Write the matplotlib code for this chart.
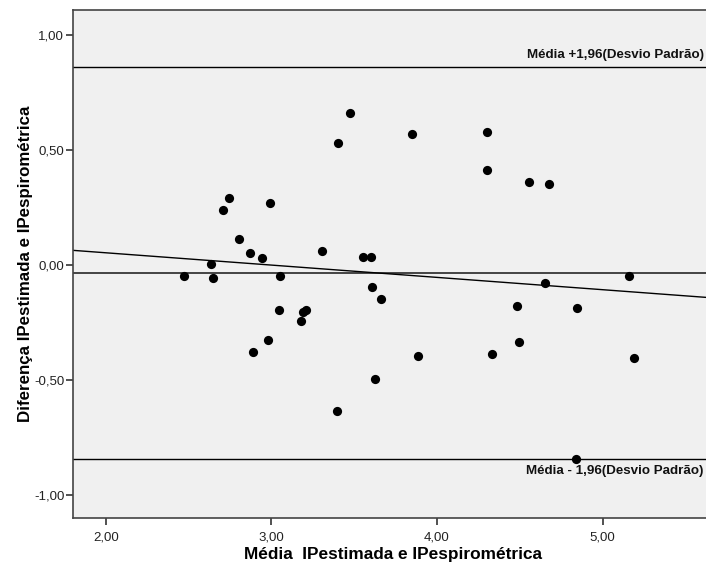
import matplotlib
matplotlib.use("Agg")
import matplotlib.pyplot as plt
from matplotlib.ticker import FuncFormatter

# Data (Bland-Altman points)
media = [2.472, 2.637, 2.649, 2.708, 2.744, 2.803, 2.871, 2.889, 2.943, 2.993,
         2.981, 3.052, 3.048, 3.181, 3.191, 3.207, 3.306, 3.400, 3.396, 3.477,
         3.551, 3.601, 3.606, 3.628, 3.660, 3.849, 3.885, 4.304, 4.300, 4.330,
         4.485, 4.495, 4.554, 4.678, 4.654, 4.847, 4.839, 5.158, 5.188]
diferenca = [-0.047, 0.004, -0.057, 0.240, 0.292, 0.112, 0.054, -0.376, 0.032, 0.271,
             -0.325, -0.047, -0.195, -0.245, -0.205, -0.195, 0.063, 0.530, -0.635, 0.659,
             0.034, 0.034, -0.096, -0.494, -0.147, 0.570, -0.395, 0.579, 0.411, -0.386,
             -0.176, -0.335, 0.361, 0.351, -0.076, -0.186, -0.843, -0.047, -0.405]

mean_diff = -0.033
upper_loa = 0.859
lower_loa = -0.842
reg_intercept = 0.160
reg_slope = -0.0534

xticks = [2.0, 3.0, 4.0, 5.0]
yticks = [-1.0, -0.5, 0.0, 0.5, 1.0]
upper_label = "Média +1,96(Desvio Padrão)"
lower_label = "Média - 1,96(Desvio Padrão)"
xlabel = "Média  IPestimada e IPespirométrica"
ylabel = "Diferença IPestimada e IPespirométrica"

narrow = ['Liberation Sans Narrow', 'Liberation Sans', 'DejaVu Sans']
sans = ['Liberation Sans', 'DejaVu Sans']

fig = plt.figure(figsize=(7.06, 5.75), dpi=100)
ax = fig.add_axes([73.3 / 706, 1 - 518 / 575, (712 - 73.3) / 706, (518 - 10) / 575])
ax.set_facecolor('#F0F0F0')

xmin, xmax = 1.804, 5.661
ax.set_xlim(xmin, xmax)
ax.set_ylim(-1.098, 1.107)

ax.axhline(upper_loa, color='black', lw=1.0, zorder=2)
ax.axhline(mean_diff, color='#444444', lw=1.4, zorder=2)
ax.axhline(lower_loa, color='black', lw=1.0, zorder=2)
ax.plot([xmin, xmax], [reg_intercept + reg_slope * xmin, reg_intercept + reg_slope * xmax],
        color='black', lw=1.0, zorder=2)

ax.scatter(media, diferenca, s=44, color='black', zorder=3, linewidths=0)

ax.text(5.610, upper_loa + 0.038, upper_label, ha='right', va='baseline',
        fontsize=9.6, fontweight='bold', family=narrow, color='#111111')
ax.text(5.610, lower_loa - 0.028, lower_label, ha='right', va='top',
        fontsize=9.6, fontweight='bold', family=narrow, color='#111111')

ax.set_xticks(xticks)
ax.set_yticks(yticks)
fmt = FuncFormatter(lambda v, p: f"{v:.2f}".replace('.', ','))
ax.xaxis.set_major_formatter(fmt)
ax.yaxis.set_major_formatter(fmt)
ax.tick_params(direction='out', length=5, width=1.2, color='#333333',
               labelsize=9.5, labelcolor='#222222', pad=1.5)
ax.tick_params(axis='x', pad=4.5)
for lab in ax.get_xticklabels() + ax.get_yticklabels():
    lab.set_family(narrow)

for s in ax.spines.values():
    s.set_color('#444444')
    s.set_linewidth(1.2)

ax.set_xlabel(xlabel, fontsize=12.4, fontweight='bold', family=sans, labelpad=3)
ax.set_ylabel(ylabel, fontsize=12.2, fontweight='bold', family=sans)
ax.yaxis.set_label_coords(-0.0625, 0.5)

fig.savefig('out.png', dpi=100)
